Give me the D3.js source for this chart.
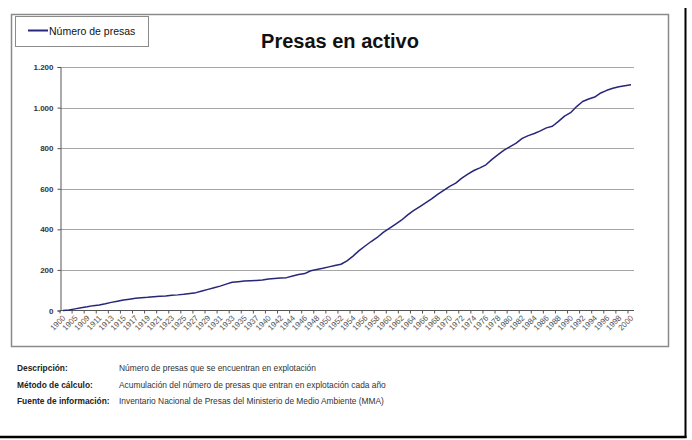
<!DOCTYPE html>
<html>
<head>
<meta charset="utf-8">
<script src="https://cdn.jsdelivr.net/npm/d3@7"></script>
<style>
  html, body { margin: 0; padding: 0; background: #fff; }
  svg { display: block; font-family: "Liberation Sans", Arial, sans-serif; }
</style>
</head>
<body>
<svg id="chart" width="692" height="440"></svg>
<script>
// Years with dams entering operation (category axis)
const years = [
  1900, 1903, 1905, 1907,
  1909, 1910, 1911, 1912, 1913, 1914, 1915, 1916, 1917, 1918, 1919, 1920,
  1921, 1922, 1923, 1924, 1925, 1926, 1927, 1928, 1929, 1930, 1931, 1932,
  1933, 1934, 1935, 1936, 1937, 1939,
  1940, 1941, 1942, 1943, 1944, 1945, 1946, 1947, 1948, 1949, 1950, 1951,
  1952, 1953, 1954, 1955, 1956, 1957, 1958, 1959, 1960, 1961, 1962, 1963,
  1964, 1965, 1966, 1967, 1968, 1969, 1970, 1971, 1972, 1973, 1974, 1975,
  1976, 1977, 1978, 1979, 1980, 1981, 1982, 1983, 1984, 1985, 1986, 1987,
  1988, 1989, 1990, 1991, 1992, 1993, 1994, 1995, 1996, 1997, 1998, 1999, 2000
];

// Cumulative number of dams in operation
const presas = [
  0, 2, 8, 14,
  18, 24, 27, 33, 40, 46, 52, 56, 60, 63, 65, 68,
  70, 72, 75, 77, 80, 84, 88, 96, 104, 112, 120, 130,
  139, 142, 145, 147, 148, 150,
  155, 158, 160, 162, 170, 177, 182, 196, 202, 208, 215, 222,
  228, 245, 268, 295, 318, 340, 360, 385, 405, 425, 445, 470,
  492, 511, 530, 550, 572, 592, 612, 628, 652, 672, 690, 703,
  718, 745, 768, 790, 808, 825, 848, 862, 872, 885, 900, 908,
  932, 958, 975, 1005, 1030, 1042, 1052, 1072, 1085, 1095, 1103, 1108, 1112
];

const yTicks = [0, 200, 400, 600, 800, 1000, 1200];

const seriesName = "Número de presas";
const title = "Presas en activo";

const notes = [
  ["Descripción:", "Número de presas que se encuentran en explotación"],
  ["Método de cálculo:", "Acumulación del número de presas que entran en explotación cada año"],
  ["Fuente de información:", "Inventario Nacional de Presas del Ministerio de Medio Ambiente (MMA)"]
];

const svg = d3.select("#chart");
const lineColor = "#26267a";

// Outer page frame
svg.append("line").attr("x1", 685.5).attr("x2", 685.5).attr("y1", 8).attr("y2", 438)
  .attr("stroke", "#000").attr("stroke-width", 2);
svg.append("line").attr("x1", 0).attr("x2", 686.5).attr("y1", 437).attr("y2", 437)
  .attr("stroke", "#000").attr("stroke-width", 2.5);

// Chart frame
svg.append("rect").attr("x", 11.5).attr("y", 14.5).attr("width", 657).attr("height", 332)
  .attr("fill", "#fff").attr("stroke", "#8a8a8a").attr("stroke-width", 1.5);

const plot = { left: 60, right: 634, top: 67, bottom: 310.5 };

const x = d3.scaleBand()
  .domain(years.map(String))
  .range([plot.left, plot.right])
  .paddingInner(0).paddingOuter(0);

const y = d3.scaleLinear().domain([0, 1200]).range([plot.bottom, plot.top]);

const esFormat = d3.formatLocale({ decimal: ",", thousands: ".", grouping: [3], currency: ["", "€"] }).format(",d");

// Horizontal gridlines
svg.append("g")
  .selectAll("line")
  .data(yTicks.filter(d => d > 0))
  .join("line")
  .attr("x1", plot.left).attr("x2", plot.right)
  .attr("y1", d => Math.round(y(d)) + 0.5).attr("y2", d => Math.round(y(d)) + 0.5)
  .attr("stroke", "#a6a6a6").attr("stroke-width", 1);

// Y axis
const yAxis = svg.append("g")
  .attr("transform", `translate(${plot.left + 0.5},0)`)
  .call(d3.axisLeft(y).tickValues(yTicks).tickFormat(esFormat).tickSize(3).tickPadding(4));
yAxis.select(".domain").attr("stroke", "#555");
yAxis.selectAll(".tick line").attr("stroke", "#555");
yAxis.selectAll(".tick text")
  .attr("font-size", 8).attr("font-weight", "bold").attr("fill", "#333")
  .attr("font-family", "'Liberation Sans', Arial, sans-serif");

// X axis line
svg.append("line")
  .attr("x1", plot.left).attr("x2", plot.right)
  .attr("y1", plot.bottom).attr("y2", plot.bottom)
  .attr("stroke", "#555").attr("stroke-width", 1);

// Tick marks every two categories, on category boundaries
const bw = x.bandwidth();
const tickPos = d3.range(0, years.length + 1, 2).map(i => plot.left + i * bw);
svg.append("g").selectAll("line")
  .data(tickPos)
  .join("line")
  .attr("x1", d => d).attr("x2", d => d)
  .attr("y1", plot.bottom).attr("y2", plot.bottom + 3)
  .attr("stroke", "#555").attr("stroke-width", 1);

// Category labels (every other year), rotated
svg.append("g").selectAll("text")
  .data(years.filter((d, i) => i % 2 === 0))
  .join("text")
  .attr("transform", d => `translate(${x(String(d)) + bw / 2 + 1},${plot.bottom + 6}) rotate(-45)`)
  .attr("text-anchor", "end")
  .attr("dy", "0.35em")
  .attr("font-size", 8)
  .attr("fill", "#555")
  .text(d => d);

// Series line
const line = d3.line()
  .x((d, i) => x(String(years[i])) + bw / 2)
  .y(d => y(d));

svg.append("path")
  .datum(presas)
  .attr("d", line)
  .attr("fill", "none")
  .attr("stroke", lineColor)
  .attr("stroke-width", 1.5)
  .attr("stroke-linejoin", "round");

// Legend
const legend = svg.append("g");
legend.append("rect").attr("x", 15.5).attr("y", 16.5).attr("width", 133).attr("height", 30)
  .attr("fill", "#fff").attr("stroke", "#8a8a8a").attr("stroke-width", 1);
legend.append("line").attr("x1", 28).attr("x2", 48).attr("y1", 30.5).attr("y2", 30.5)
  .attr("stroke", lineColor).attr("stroke-width", 2);
legend.append("text").attr("x", 49).attr("y", 34.5)
  .attr("font-size", 10.5).attr("fill", "#111").text(seriesName);

// Title
svg.append("text").attr("x", 340).attr("y", 48)
  .attr("text-anchor", "middle")
  .attr("font-size", 20).attr("font-weight", "bold").attr("fill", "#111")
  .text(title);

// Notes below the chart
const noteG = svg.append("g");
notes.forEach((n, i) => {
  const yy = 371 + i * 16.5;
  noteG.append("text").attr("x", 17).attr("y", yy)
    .attr("font-size", 8.4).attr("font-weight", "bold").attr("fill", "#222").text(n[0]);
  noteG.append("text").attr("x", 119).attr("y", yy)
    .attr("font-size", 8.4).attr("fill", "#333").text(n[1]);
});
</script>
</body>
</html>
